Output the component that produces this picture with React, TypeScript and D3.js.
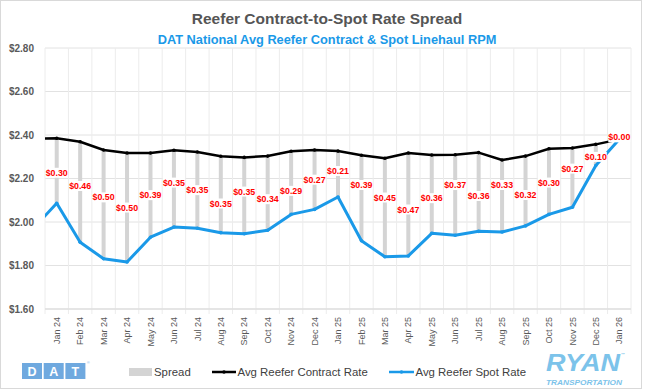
import React from 'react';
import * as d3 from 'd3';

// months (Dec 23 sits just left of the axis and is clipped, like the source chart)
const months = [
  'Dec 23', 'Jan 24', 'Feb 24', 'Mar 24', 'Apr 24', 'May 24', 'Jun 24', 'Jul 24', 'Aug 24',
  'Sep 24', 'Oct 24', 'Nov 24', 'Dec 24', 'Jan 25', 'Feb 25', 'Mar 25', 'Apr 25', 'May 25',
  'Jun 25', 'Jul 25', 'Aug 25', 'Sep 25', 'Oct 25', 'Nov 25', 'Dec 25', 'Jan 26',
];

const contractRate = [
  2.382, 2.385, 2.369, 2.331, 2.317, 2.317, 2.33, 2.322, 2.302, 2.297, 2.303, 2.325, 2.331,
  2.326, 2.307, 2.293, 2.317, 2.308, 2.309, 2.319, 2.285, 2.303, 2.337, 2.34, 2.357, 2.38,
];

const spotRate = [
  1.97, 2.086, 1.907, 1.831, 1.816, 1.93, 1.977, 1.971, 1.951, 1.946, 1.962, 2.035, 2.058,
  2.115, 1.914, 1.84, 1.844, 1.948, 1.939, 1.957, 1.954, 1.982, 2.035, 2.068, 2.26, 2.38,
];

// hand-placed label offsets (px) from the middle of each spread bar
const labelNudge = [
  0, 2, -6, -7, 0, 0, -6, 0, 9, -4, 6, 8, 0, -3, -13, -10, 5, 4, -10, 4, -11, 4, 1, -9, 2, -2,
];

const yTicks = [1.6, 1.8, 2.0, 2.2, 2.4, 2.6, 2.8];

const FONT = "'Liberation Sans', Arial, sans-serif";
const BLUE = '#1a99e8';

export default function App() {
  const left = 45;
  const right = 631;
  const top = 48;
  const bottom = 309;

  const x = d3.scaleLinear().domain([0.5, months.length - 0.5]).range([left, right]);
  const y = d3.scaleLinear().domain([1.6, 2.8]).range([bottom, top]);

  const idx = months.map((_, i) => i);
  const line = (vals: number[]) =>
    d3.line<number>().x(i => x(i)).y(i => y(vals[i]))(idx) || '';

  const visible = idx.slice(1);
  const bounds = d3.range(0.5, months.length, 1);

  return (
    <svg
      width={650}
      height={390}
      style={{ position: 'absolute', left: 0, top: 0, background: '#fff' }}
      fontFamily={FONT}
    >
      <defs>
        <clipPath id="plot">
          <rect x={left} y={0} width={right - left} height={bottom} />
        </clipPath>
      </defs>
      <rect x={0.5} y={0.5} width={641} height={388} fill="#fff" stroke="#d9d9d9" />

      <text x={327} y={24} textAnchor="middle" fontSize={15.5} fontWeight="bold" fill="#555">
        Reefer Contract-to-Spot Rate Spread
      </text>
      <text x={327} y={44} textAnchor="middle" fontSize={12.8} fontWeight="bold" fill={BLUE}>
        DAT National Avg Reefer Contract &amp; Spot Linehaul RPM
      </text>

      {/* grid */}
      {yTicks.map(t => (
        <g key={t}>
          <line x1={left} x2={right} y1={y(t)} y2={y(t)} stroke="#e2e2e2" strokeWidth={1} />
          <text
            x={34}
            y={y(t)}
            dy="0.35em"
            textAnchor="end"
            fontSize={10}
            fontWeight="bold"
            fill="#595959"
          >
            {d3.format('$.2f')(t)}
          </text>
        </g>
      ))}
      {bounds.map(b => (
        <line
          key={b}
          x1={x(b)}
          x2={x(b)}
          y1={top}
          y2={bottom + 5}
          stroke="#ececec"
          strokeWidth={1}
        />
      ))}
      <line x1={left} x2={right} y1={bottom} y2={bottom} stroke="#d9d9d9" />

      {/* x labels */}
      {visible.map(i => (
        <text
          key={i}
          transform={`translate(${x(i)},317) rotate(-90)`}
          dy="0.35em"
          textAnchor="end"
          fontSize={9}
          fill="#595959"
        >
          {months[i]}
        </text>
      ))}

      {/* spread bars */}
      {visible.map(i => (
        <rect
          key={i}
          x={x(i) - 2}
          width={4}
          y={y(contractRate[i])}
          height={y(spotRate[i]) - y(contractRate[i])}
          fill="#d4d4d4"
        />
      ))}

      <g clipPath="url(#plot)">
        <path d={line(contractRate)} fill="none" stroke="#000" strokeWidth={2.5} strokeLinejoin="round" />
        <path d={line(spotRate)} fill="none" stroke={BLUE} strokeWidth={3} strokeLinejoin="round" />
        {visible.map(i => (
          <g key={i}>
            <circle cx={x(i)} cy={y(contractRate[i])} r={1.8} fill="#000" />
            <circle cx={x(i)} cy={y(spotRate[i])} r={1.8} fill={BLUE} />
          </g>
        ))}
      </g>

      {/* spread labels */}
      {visible.map(i => {
        const spread = contractRate[i] - spotRate[i];
        const cy = (y(contractRate[i]) + y(spotRate[i])) / 2 + labelNudge[i];
        return (
          <g key={i}>
            <rect x={x(i) - 11} y={cy - 5} width={22} height={10} fill="#fff" />
            <text
              x={x(i)}
              y={cy}
              dy="0.35em"
              textAnchor="middle"
              fontSize={8.8}
              fontWeight="bold"
              fill="#ff0000"
            >
              {d3.format('$.2f')(Math.abs(spread))}
            </text>
          </g>
        );
      })}

      {/* legend */}
      <g fontSize={11.4} fill="#404040">
        <rect x={129} y={368} width={23} height={8} fill="#d4d4d4" />
        <text x={154} y={372} dy="0.35em">Spread</text>
        <line x1={212} x2={236} y1={372} y2={372} stroke="#000" strokeWidth={2.5} />
        <circle cx={224} cy={372} r={1.8} fill="#000" />
        <text x={237.5} y={372} dy="0.35em">Avg Reefer Contract Rate</text>
        <line x1={389} x2={414} y1={372} y2={372} stroke={BLUE} strokeWidth={2.5} />
        <circle cx={401.5} cy={372} r={1.8} fill={BLUE} />
        <text x={415.5} y={372} dy="0.35em">Avg Reefer Spot Rate</text>
      </g>

      {/* DAT logo */}
      <g>
        {['D', 'A', 'T'].map((c, k) => (
          <g key={c}>
            <rect x={22 + k * 21.7} y={363} width={20} height={16} fill="#6fa9df" />
            <text
              x={32 + k * 21.7}
              y={371}
              dy="0.36em"
              textAnchor="middle"
              fontSize={12.5}
              fontWeight="bold"
              fill="#fff"
            >
              {c}
            </text>
          </g>
        ))}
        <text x={87} y={364} fontSize={3.5} fill="#6fa9df">®</text>
      </g>

      {/* RYAN logo */}
      <g fill="#7cc3ea" fontWeight="bold" fontStyle="italic">
        <text x={546} y={370.5} fontSize={23} textLength={74} lengthAdjust="spacingAndGlyphs">
          RYAN
        </text>
        <text x={546} y={384.5} fontSize={8} textLength={76} lengthAdjust="spacingAndGlyphs">
          TRANSPORTATION
        </text>
        <text x={621} y={356} fontSize={4} fontStyle="normal">™</text>
      </g>
    </svg>
  );
}
